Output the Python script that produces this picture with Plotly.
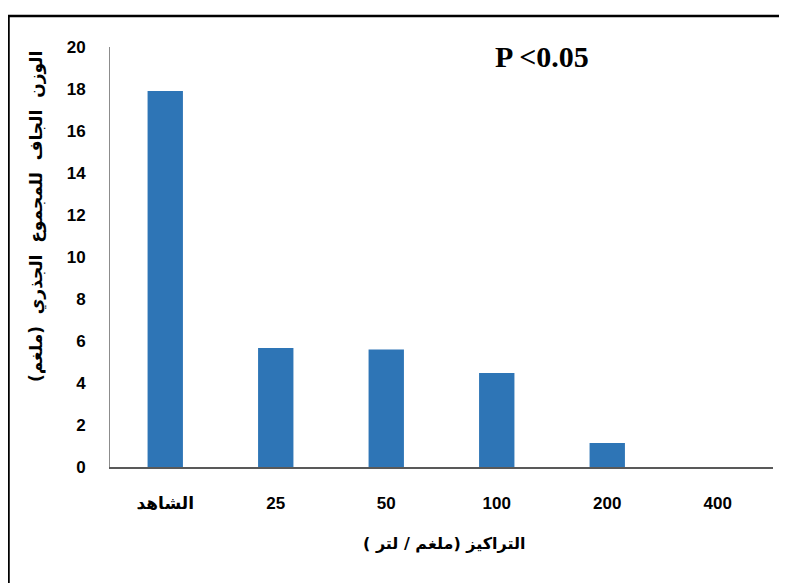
import plotly.graph_objects as go

categories = ["الشاهد", "25", "50", "100", "200", "400"]
dry_weight = [17.9, 5.67, 5.6, 4.48, 1.14, 0]
y_ticks = [0, 2, 4, 6, 8, 10, 12, 14, 16, 18, 20]

OFF = 8  # page body margin
W, H = 787 - OFF, 583 - OFF
L, R, T, B = 110 - OFF, 14, 47 - OFF, 116
pw, ph = W - L - R, H - T - B

def px(x):
    return (x - OFF - L) / pw

def py(y):
    return (H - B - (y - OFF)) / ph

tick_font = dict(size=17, weight="bold", family="Liberation Sans, DejaVu Sans")

fig = go.Figure(go.Bar(
    x=categories, y=dry_weight,
    marker=dict(color="#2E75B6", line=dict(width=0)),
    width=0.32,
))

fig.update_layout(
    width=W, height=H,
    margin=dict(l=L, r=R, t=T, b=B),
    plot_bgcolor="white", paper_bgcolor="white",
    showlegend=False,
    font=dict(family="Liberation Sans, DejaVu Sans", color="black"),
    xaxis=dict(
        type="category",
        showline=True, linecolor="#595959", linewidth=1.5,
        ticks="", showgrid=False,
        tickfont=tick_font,
        ticklabelstandoff=20,
    ),
    yaxis=dict(
        range=[0, 20], tickvals=y_ticks,
        showline=True, linecolor="#8c8c8c", linewidth=1,
        ticks="", showgrid=False, zeroline=False,
        tickfont=tick_font,
        ticklabelstandoff=20,
    ),
    annotations=[
        dict(text="P <0.05", x=px(542), y=py(56), xref="paper", yref="paper",
             xanchor="center", yanchor="middle",
             showarrow=False, font=dict(family="Liberation Serif", size=30, weight="bold")),
        dict(text="الوزن  الجاف  للمجموع  الجذري  (ملغم)", x=px(36), y=py(217),
             xref="paper", yref="paper", showarrow=False, textangle=-90,
             xanchor="center", yanchor="middle",
             font=dict(family="DejaVu Sans", size=17, weight="bold")),
        dict(text="التراكيز (ملغم / لتر )", x=px(444), y=py(543),
             xref="paper", yref="paper", showarrow=False,
             xanchor="center", yanchor="middle",
             font=dict(family="DejaVu Sans", size=16, weight="bold")),
    ],
    shapes=[
        dict(type="rect", xref="paper", yref="paper",
             x0=px(8.5), x1=px(800), y0=py(600), y1=py(16),
             line=dict(color="black", width=2.5), fillcolor="rgba(0,0,0,0)"),
    ],
)

fig.write_html("out.html")
